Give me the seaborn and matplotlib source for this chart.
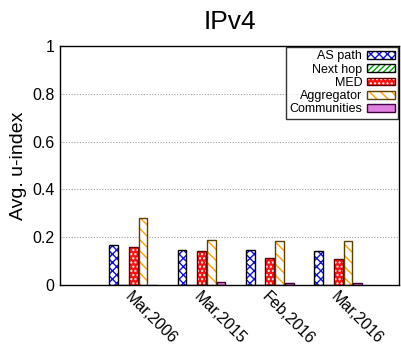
import matplotlib
matplotlib.use("Agg")
import matplotlib.pyplot as plt
from matplotlib.patches import Rectangle, Patch
from matplotlib.legend_handler import HandlerTuple
import seaborn as sns
import pandas as pd

# ---- data ----
dates = ["Mar,2006", "Mar,2015", "Feb,2016", "Mar,2016"]
series = ["AS path", "Next hop", "MED", "Aggregator", "Communities"]
as_path = [0.167, 0.146, 0.145, 0.142]
next_hop = [0.0, 0.0, 0.0, 0.0]
med = [0.159, 0.142, 0.113, 0.109]
aggregator = [0.280, 0.187, 0.184, 0.183]
communities = [0.002, 0.011, 0.010, 0.010]
yticks = [0, 0.2, 0.4, 0.6, 0.8, 1]
ytick_labels = ["0", "0.2", "0.4", "0.6", "0.8", "1"]

values = [as_path, next_hop, med, aggregator, communities]
rows = []
for s, vals in zip(series, values):
    for d, v in zip(dates, vals):
        rows.append({"date": d, "series": s, "value": v})
df = pd.DataFrame(rows)

# styles: (face, hatch, hatchcolor, edge)
styles = {
    "AS path": ("white", "xxxx", "#1010e0", "black"),
    "Next hop": ("white", "//////", "#00a000", "black"),
    "MED": ("#ff1010", "....", "white", "#600000"),
    "Aggregator": ("white", "\\\\\\", "#ffa000", "#604000"),
    "Communities": ("#e080e0", "", "#e080e0", "#400040"),
}

sns.set_style("white")
plt.rcParams["font.family"] = ["Liberation Sans", "DejaVu Sans"]
plt.rcParams["hatch.linewidth"] = 1.0
plt.rcParams["text.color"] = "black"
plt.rcParams["axes.labelcolor"] = "black"
plt.rcParams["xtick.color"] = "black"
plt.rcParams["ytick.color"] = "black"

fig = plt.figure(figsize=(4.01, 3.48), dpi=100)
ax = fig.add_axes([60 / 401, 1 - 285 / 348, 339 / 401, (285 - 46) / 348])

sns.barplot(data=df, x="date", y="value", hue="series", order=dates,
            hue_order=series, width=5 / 7, gap=0.1, legend=False, ax=ax,
            errorbar=None)

for cont, s in zip(ax.containers, series):
    face, hatch, hc, ec = styles[s]
    for p in cont:
        p.set_facecolor(face)
        p.set_hatch(hatch)
        p.set_edgecolor(hc)
        p.set_linewidth(0)
        x, y = p.get_xy()
        ax.add_patch(Rectangle((x, y), p.get_width(), p.get_height(),
                               fill=False, edgecolor=ec, linewidth=1.0,
                               zorder=p.get_zorder() + 0.1))

ax.set_xlim(-1.07, 3.89)
ax.set_ylim(0, 1)
ax.set_yticks(yticks)
ax.set_yticklabels(ytick_labels, fontsize=11.5)
ax.set_xlabel("")
ax.set_ylabel("Avg. u-index", fontsize=14, labelpad=4)
ax.set_title("IPv4", fontsize=19, pad=12)
for g in yticks[1:-1]:
    ax.axhline(g, color="#a0a0a0", linestyle=(0, (1, 1.5)), linewidth=0.8, zorder=0)
ax.set_xticks(range(len(dates)))
ax.set_xticklabels(dates, rotation=-45, ha="left", va="top",
                   rotation_mode="anchor", fontsize=11.5)
ax.tick_params(axis="x", length=0, pad=3)
ax.tick_params(axis="y", length=0, pad=4)
for sp in ax.spines.values():
    sp.set_color("black")
    sp.set_linewidth(1.0)

handles = []
for s in series:
    face, hatch, hc, ec = styles[s]
    h1 = Patch(facecolor=face, hatch=hatch, edgecolor=hc, linewidth=0)
    h2 = Patch(fill=False, edgecolor=ec, linewidth=1.0)
    handles.append((h1, h2))
leg = ax.legend(handles, series, loc="upper right", fontsize=9,
                handler_map={tuple: HandlerTuple(ndivide=1, pad=0)},
                markerfirst=False, frameon=True, fancybox=False,
                handlelength=2.2, handleheight=0.6, handletextpad=0.4,
                labelspacing=0.1, borderpad=0.25, borderaxespad=0.1)
leg.get_frame().set_edgecolor("black")
leg.get_frame().set_linewidth(1.0)
for t in leg.get_texts():
    t.set_ha("right")
leg._legend_box.align = "right"

fig.savefig("out.png", dpi=100)
